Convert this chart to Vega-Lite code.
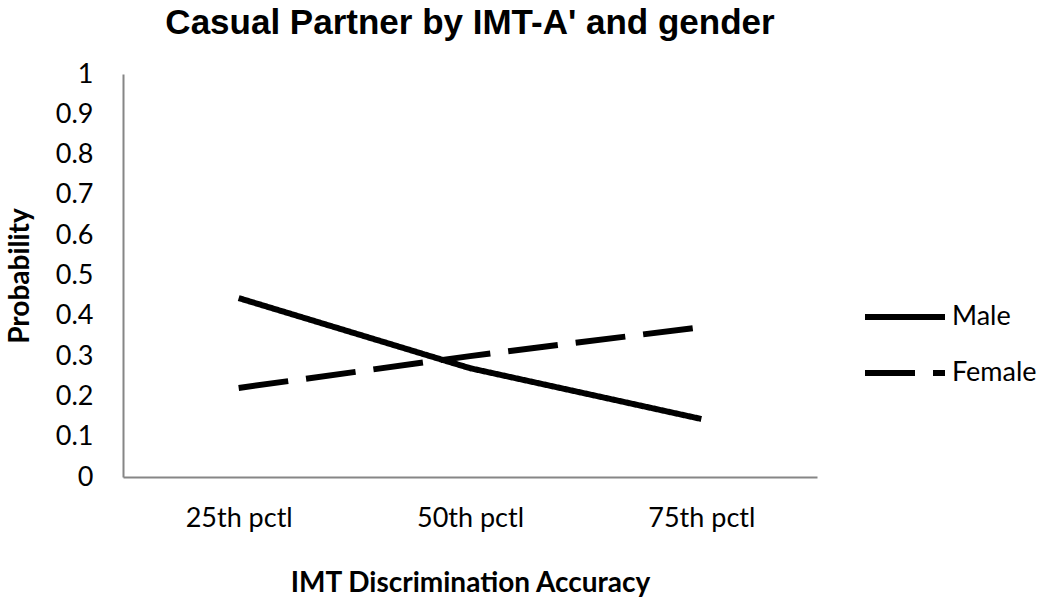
{
  "$schema": "https://vega.github.io/schema/vega-lite/v6.json",
  "width": 694,
  "height": 403,
  "autosize": {"type": "none"},
  "padding": {"left": 123, "top": 74, "right": 233, "bottom": 129},
  "background": "white",
  "view": {"stroke": null},
  "title": {
    "text": "Casual Partner by IMT-A' and gender",
    "font": "Liberation Sans",
    "fontSize": 35,
    "fontWeight": "bold",
    "color": "black",
    "anchor": "middle",
    "offset": 19
  },
  "data": {
    "values": [
      {"pctl": "25th pctl", "gender": "Male", "prob": 0.444},
      {"pctl": "50th pctl", "gender": "Male", "prob": 0.27},
      {"pctl": "75th pctl", "gender": "Male", "prob": 0.144},
      {"pctl": "25th pctl", "gender": "Female", "prob": 0.221},
      {"pctl": "50th pctl", "gender": "Female", "prob": 0.3},
      {"pctl": "75th pctl", "gender": "Female", "prob": 0.372}
    ]
  },
  "mark": {"type": "line", "color": "black", "strokeWidth": 6, "strokeCap": "butt"},
  "encoding": {
    "x": {
      "field": "pctl",
      "type": "nominal",
      "sort": ["25th pctl", "50th pctl", "75th pctl"],
      "scale": {"type": "point", "padding": 0.5},
      "title": "IMT Discrimination Accuracy",
      "axis": {
        "labelAngle": 0,
        "labelFont": "Lato",
        "labelFontSize": 27,
        "labelColor": "black",
        "labelPadding": 28,
        "ticks": false,
        "grid": false,
        "domainColor": "#868686",
        "domainWidth": 2,
        "titleFont": "Lato",
        "titleFontSize": 28,
        "titleFontWeight": "bold",
        "titleColor": "black",
        "titlePadding": 38
      }
    },
    "y": {
      "field": "prob",
      "type": "quantitative",
      "scale": {"domain": [0, 1], "nice": false},
      "title": "Probability",
      "axis": {
        "values": [0, 0.1, 0.2, 0.3, 0.4, 0.5, 0.6, 0.7, 0.8, 0.9, 1],
        "format": ".1~f",
        "labelFont": "Lato",
        "labelFontSize": 27,
        "labelColor": "black",
        "labelPadding": 30,
        "ticks": false,
        "grid": false,
        "domainColor": "#868686",
        "domainWidth": 2,
        "titleFont": "Lato",
        "titleFontSize": 28,
        "titleFontWeight": "bold",
        "titleColor": "black",
        "titlePadding": 21
      }
    },
    "strokeDash": {
      "field": "gender",
      "type": "nominal",
      "scale": {"domain": ["Male", "Female"], "range": [[1, 0], [50, 18]]},
      "legend": {
        "title": null,
        "orient": "none",
        "legendX": 739,
        "legendY": 200,
        "symbolType": "stroke",
        "symbolSize": 6400,
        "symbolStrokeWidth": 6,
        "symbolStrokeColor": "black",
        "labelFont": "Lato",
        "labelFontSize": 27,
        "labelColor": "black",
        "labelOffset": 4,
        "rowPadding": -24
      }
    }
  }
}
